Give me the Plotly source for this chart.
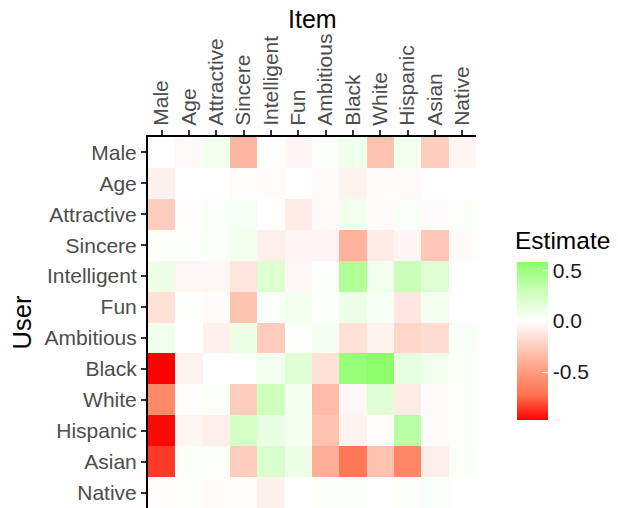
import plotly.graph_objects as go

items = ["Male", "Age", "Attractive", "Sincere", "Intelligent", "Fun",
         "Ambitious", "Black", "White", "Hispanic", "Asian", "Native"]
users = ["Male", "Age", "Attractive", "Sincere", "Intelligent", "Fun",
         "Ambitious", "Black", "White", "Hispanic", "Asian", "Native"]

# rows = User, columns = Item
row_male        = [0.00, -0.03, 0.08, -0.36, 0.00, -0.05, 0.03, 0.08, -0.30, 0.08, -0.25, -0.05]
row_age         = [-0.07, 0.00, 0.00, -0.01, -0.02, 0.00, -0.02, -0.06, -0.02, -0.02, 0.00, 0.00]
row_attractive  = [-0.25, -0.01, 0.04, 0.05, 0.00, -0.10, -0.03, 0.08, -0.02, 0.04, -0.02, 0.03]
row_sincere     = [0.02, 0.01, 0.04, 0.08, -0.08, -0.05, -0.05, -0.38, -0.10, -0.05, -0.28, -0.02]
row_intelligent = [0.10, -0.04, -0.04, -0.13, 0.20, -0.04, 0.03, 0.42, 0.08, 0.30, 0.20, 0.00]
row_fun         = [-0.15, 0.01, -0.02, -0.30, 0.04, 0.08, 0.03, 0.10, 0.05, -0.12, 0.07, 0.00]
row_ambitious   = [0.08, 0.00, -0.07, 0.10, -0.25, 0.03, 0.06, -0.15, -0.06, -0.20, -0.17, 0.04]
row_black       = [-0.97, -0.06, 0.00, 0.00, 0.07, 0.18, -0.15, 0.52, 0.58, 0.13, 0.08, 0.03]
row_white       = [-0.60, -0.01, 0.03, -0.25, 0.28, 0.07, -0.33, -0.04, 0.18, -0.10, -0.02, 0.03]
row_hispanic    = [-0.95, -0.05, -0.08, 0.25, 0.12, 0.07, -0.30, -0.06, -0.01, 0.38, -0.02, 0.03]
row_asian       = [-0.85, 0.03, 0.03, -0.25, 0.22, 0.10, -0.40, -0.70, -0.30, -0.62, -0.08, 0.03]
row_native      = [-0.01, 0.02, -0.02, -0.01, -0.07, 0.00, 0.02, 0.02, 0.00, 0.02, 0.04, 0.00]

z = [row_male, row_age, row_attractive, row_sincere, row_intelligent, row_fun,
     row_ambitious, row_black, row_white, row_hispanic, row_asian, row_native]

zmin, zmax = -0.97, 0.58
span = zmax - zmin
def pos(v):
    return (v - zmin) / span

colorscale = [
    [0.0, "#FF0000"],
    [pos(-0.7275), "#FF7350"],
    [pos(-0.485), "#FF9E81"],
    [pos(-0.2425), "#FFCFBF"],
    [pos(0.0), "#FFFFFF"],
    [pos(0.29), "#CDFFBC"],
    [1.0, "#8CFF6A"],
]

# page has an 8px body margin, so figure coords = screenshot coords - 8
OFF = 8
FW, FH = 618 - OFF, 508 - OFF
L, R, T, B = 148 - OFF, 476 - OFF, 137 - OFF, 508 - OFF
W, H = R - L, B - T

def px_x(x):
    return (x - OFF - L) / W

def px_y(y):
    return (B - (y - OFF)) / H

fig = go.Figure(go.Heatmap(
    z=z, x=items, y=users,
    zmin=zmin, zmax=zmax,
    colorscale=colorscale,
    xgap=0, ygap=0,
    colorbar=dict(
        x=px_x(517), xanchor="left",
        y=px_y(262), yanchor="top",
        len=158, lenmode="pixels",
        thickness=31, thicknessmode="pixels",
        outlinewidth=0,
        tickvals=[-0.5, 0.0, 0.5],
        ticktext=["-0.5", "0.0", "0.5"],
        ticks="inside", ticklen=6, tickcolor="white", tickwidth=1,
        tickfont=dict(family="Liberation Sans", size=21, color="#1a1a1a"),
        xpad=0, ypad=0,
    ),
    hovertemplate="User %{y}<br>Item %{x}<br>%{z}<extra></extra>",
))

fig.update_layout(
    width=FW, height=FH,
    margin=dict(l=L, r=FW - R, t=T, b=FH - B, autoexpand=False),
    paper_bgcolor="white", plot_bgcolor="white",
    font=dict(family="Liberation Sans", color="#4D4D4D"),
    xaxis=dict(
        side="top", type="category",
        tickangle=-90,
        tickfont=dict(size=21, color="#4D4D4D"),
        ticks="outside", ticklen=5, tickwidth=1.5, tickcolor="#333333",
        showline=True, linecolor="black", linewidth=2,
        showgrid=False, zeroline=False,
    ),
    yaxis=dict(
        type="category", autorange="reversed",
        tickfont=dict(size=21, color="#4D4D4D"),
        ticks="outside", ticklen=5, tickwidth=1.5, tickcolor="#333333",
        showline=True, linecolor="black", linewidth=2,
        showgrid=False, zeroline=False,
        title=dict(text="User", font=dict(size=25.5, color="black"), standoff=10),
    ),
    annotations=[
        dict(
            text="Item", xref="paper", yref="paper",
            x=px_x(312), xanchor="center",
            y=px_y(19), yanchor="middle",
            showarrow=False, font=dict(size=25, color="black"),
        ),
        dict(
            text="Estimate", xref="paper", yref="paper",
            x=px_x(517), xanchor="left", xshift=-4,
            y=px_y(240), yanchor="middle",
            showarrow=False, font=dict(size=24.5, color="black"),
        ),
    ],
)

fig.write_html("out.html")
